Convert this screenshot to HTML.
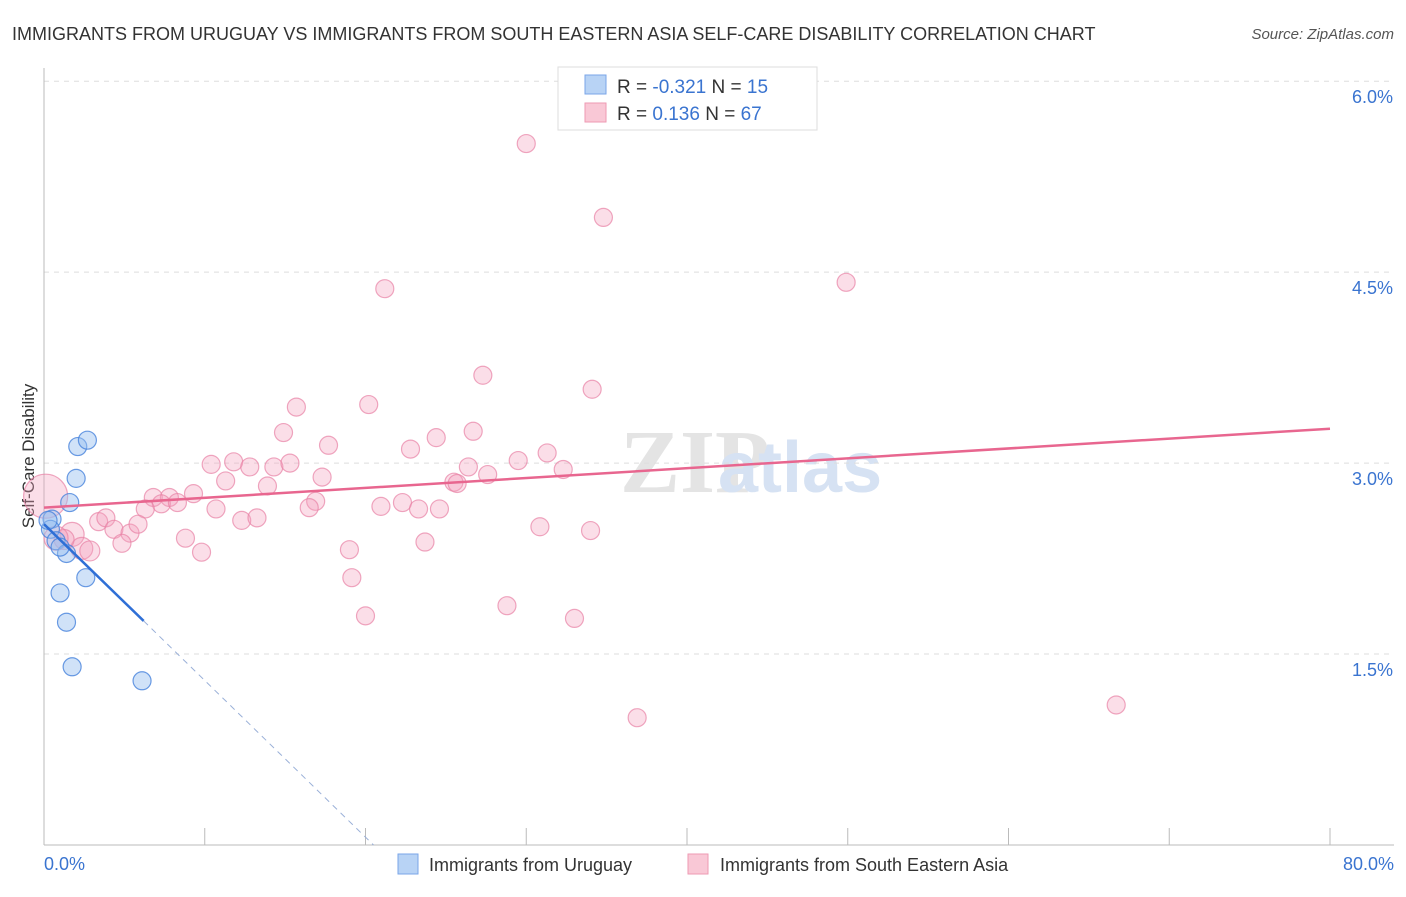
<!DOCTYPE html>
<html><head><meta charset="utf-8"><style>
body{margin:0;background:#fff;font-family:"Liberation Sans",sans-serif}
</style></head><body>
<svg id="c" width="1406" height="892" xmlns="http://www.w3.org/2000/svg" style="font-family:'Liberation Sans',sans-serif">
<text x="12" y="40" font-size="18" fill="#333">IMMIGRANTS FROM URUGUAY VS IMMIGRANTS FROM SOUTH EASTERN ASIA SELF-CARE DISABILITY CORRELATION CHART</text>
<text x="1394" y="39" font-size="15" fill="#555" font-style="italic" text-anchor="end">Source: ZipAtlas.com</text>
<text x="620" y="492" font-size="90" fill="#e4e4e4" font-family="Liberation Serif" font-weight="bold">ZIP</text>
<text x="718" y="492" font-size="72" fill="#d6e2f3" font-weight="bold">atlas</text>
<g id="grid"></g>
<line x1="44" y1="68" x2="44" y2="845" stroke="#bbb"/>
<line x1="44" y1="845" x2="1394" y2="845" stroke="#bbb"/>
<text transform="translate(34,456) rotate(-90)" font-size="17" fill="#333" text-anchor="middle">Self-Care Disability</text>
<text x="44" y="870" font-size="18" fill="#3a74d0">0.0%</text>
<text x="1394" y="870" font-size="18" fill="#3a74d0" text-anchor="end">80.0%</text>
<g id="pts"></g>
<g id="lines"></g>
<g>
<rect x="558" y="67" width="259" height="63" fill="#fff" stroke="#ddd"/>
<rect x="585" y="75" width="21" height="19" fill="#b8d3f5" stroke="#7aa6e8"/>
<rect x="585" y="103" width="21" height="19" fill="#f9c8d6" stroke="#ee9ab3"/>
<text x="617" y="93" font-size="19" fill="#333">R = <tspan fill="#3a74d0">-0.321</tspan>   N = <tspan fill="#3a74d0">15</tspan></text>
<text x="617" y="120" font-size="19" fill="#333">R =   <tspan fill="#3a74d0">0.136</tspan>   N = <tspan fill="#3a74d0">67</tspan></text>
</g>
<g>
<rect x="398" y="854" width="20" height="20" fill="#b8d3f5" stroke="#7aa6e8"/>
<text x="429" y="871" font-size="18" fill="#333">Immigrants from Uruguay</text>
<rect x="688" y="854" width="20" height="20" fill="#f9c8d6" stroke="#ee9ab3"/>
<text x="720" y="871" font-size="18" fill="#333">Immigrants from South Eastern Asia</text>
</g>
</svg>
<script>
const yTicks=[1.5,3.0,4.5,6.0];
const yTickLabels=["1.5%","3.0%","4.5%","6.0%"];
const xTicks=[0,10,20,30,40,50,60,70,80];
const blueX=[2.1,2.7,2.0,1.6,0.5,0.4,0.75,1.4,1.0,2.6,1.0,1.4,1.75,6.1,0.25];
const blueY=[3.13,3.18,2.88,2.69,2.56,2.48,2.39,2.29,2.34,2.10,1.98,1.75,1.40,1.29,2.55];
const pinkX=[30.0,34.8,21.2,49.9,27.3,34.1,20.2,15.7,14.9,24.4,26.7,17.7,22.8,29.5,31.3,10.4,11.8,12.8,14.3,15.3,17.3,26.4,27.6,32.3,25.5,25.7,11.3,13.9,9.3,6.8,7.8,7.3,8.3,6.3,10.7,16.9,16.5,20.96,22.3,23.3,24.6,3.4,3.85,4.35,5.35,5.85,12.3,13.25,8.8,4.85,9.8,19.0,23.7,30.85,34.0,19.15,20.0,28.8,33.0,36.9,66.7,1.75,2.35,2.85,1.25,0.75,0.1];
const pinkY=[5.51,4.93,4.37,4.42,3.69,3.58,3.46,3.44,3.24,3.20,3.25,3.14,3.11,3.02,3.08,2.99,3.01,2.97,2.97,3.00,2.89,2.97,2.91,2.95,2.85,2.84,2.86,2.82,2.76,2.73,2.73,2.68,2.69,2.64,2.64,2.70,2.65,2.66,2.69,2.64,2.64,2.54,2.57,2.48,2.45,2.52,2.55,2.57,2.41,2.37,2.30,2.32,2.38,2.50,2.47,2.10,1.80,1.88,1.78,1.00,1.10,2.44,2.33,2.31,2.40,2.41,2.74];
const pinkR=[9,9,9,9,9,9,9,9,9,9,9,9,9,9,9,9,9,9,9,9,9,9,9,9,9,9,9,9,9,9,9,9,9,9,9,9,9,9,9,9,9,9,9,9,9,9,9,9,9,9,9,9,9,9,9,9,9,9,9,9,9,12,11,10,10,12,22];
const pinkTrend=[[0,2.65],[80,3.27]];
const blueTrend=[[0,2.52],[6.2,1.76]];
const blueDash=[[6.2,1.76],[20.5,0]];
const X=v=>44+v*16.075, Y=v=>845-v*127.3;
const NS="http://www.w3.org/2000/svg";
function mk(t,a,p){const e=document.createElementNS(NS,t);for(const k in a)e.setAttribute(k,a[k]);p.appendChild(e);return e;}
const g=document.getElementById('grid');
yTicks.forEach((t,i)=>{
 const l=mk('line',{x1:44,x2:1394,y1:Y(t),y2:Y(t),stroke:'#ddd','stroke-dasharray':'5,5'},g);
 
 
 const tx=mk('text',{x:1393,y:Y(t)+22,'font-size':18,fill:'#3a74d0','text-anchor':'end'},g);
 tx.textContent=yTickLabels[i];
 
 
});
xTicks.forEach(t=>{
 const l=mk('line',{x1:X(t),x2:X(t),y1:828,y2:845,stroke:'#bbb'},g);
 
 
});
const p=document.getElementById('pts');
pinkX.forEach((v,i)=>{
 const c=mk('circle',{cx:X(v),cy:Y(pinkY[i]),r:pinkR[i],fill:'rgba(244,160,188,0.35)',stroke:'rgba(232,130,165,0.7)','stroke-width':1.2},p);
 
 
});
blueX.forEach((v,i)=>{
 const c=mk('circle',{cx:X(v),cy:Y(blueY[i]),r:9,fill:'rgba(150,190,240,0.45)',stroke:'rgba(70,130,220,0.8)','stroke-width':1.2},p);
 
 
});
const L=document.getElementById('lines');
function line(pts,st,w,dash,name){const e=mk('line',{x1:X(pts[0][0]),y1:Y(pts[0][1]),x2:X(pts[1][0]),y2:Y(pts[1][1]),stroke:st,'stroke-width':w},L);if(dash)e.setAttribute('stroke-dasharray',dash);
 
 }
line(pinkTrend,'#e8668f',2.5,null,'trend-south-eastern-asia');
line(blueTrend,'#2f6fd6',2.5,null,'trend-uruguay');
line(blueDash,'#9ab0d8',1,'6,5','trend-uruguay-extension');
</script>
</body></html>
